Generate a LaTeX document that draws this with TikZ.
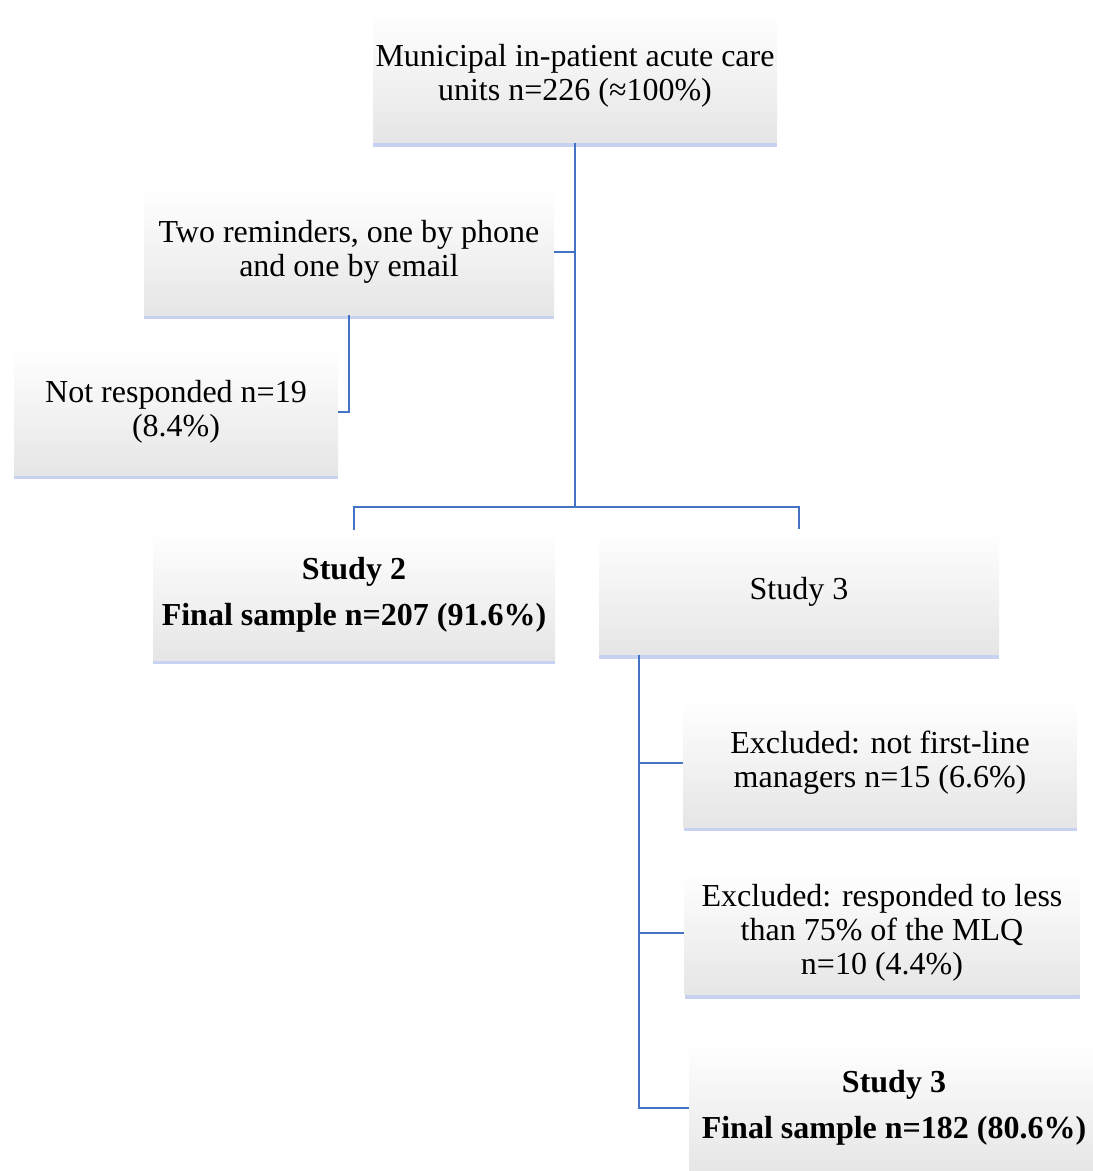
\documentclass[tikz,border=0pt]{standalone}
\usepackage{fontspec}
\setmainfont{Liberation Serif}
\usepackage{tikz}
\usetikzlibrary{positioning,shadows}

\definecolor{linkblue}{RGB}{68,114,196}
\definecolor{shadeblue}{RGB}{160,180,230}

\begin{document}
\begin{tikzpicture}[
  x=1pt, y=-1pt,
  box/.style={shading=axis, top color=white, bottom color=black!10, align=center,
    inner sep=2pt, font=\fontsize{32}{34}\selectfont,
    drop shadow={shadow xshift=0pt, shadow yshift=-4pt, fill=shadeblue, opacity=0.6}},
  link/.style={draw=linkblue, line width=2pt}
]
  \useasboundingbox (0,0) rectangle (1093,1171);
  \node[box, minimum width=404pt, minimum height=133pt] (units) at (575,76)
    {Municipal in-patient acute care\\units n=226 (≈100\%)};
  \node[box, minimum width=410pt, minimum height=126pt] (remind) at (349,252)
    {Two reminders, one by phone\\and one by email};
  \node[box, minimum width=324pt, minimum height=126pt] (noresp) at (176,412)
    {Not responded n=19\\(8.4\%)};
  \node[box, minimum width=402pt, minimum height=130pt] (studytwo) at (354,595)
    {\textbf{Study 2}\\[12pt]\textbf{Final sample n=207 (91.6\%)}};
  \node[box, minimum width=400pt, minimum height=125pt] (studythree) at (799,592)
    {Study 3};
  \node[box, minimum width=393pt, minimum height=128pt] (exclone) at (880,763)
    {Excluded: not first-line\\managers n=15 (6.6\%)};
  \node[box, minimum width=395pt, minimum height=123pt] (excltwo) at (882,933)
    {Excluded: responded to less\\than 75\% of the MLQ\\n=10 (4.4\%)};
  \node[box, minimum width=410pt, minimum height=134pt] (final) at (894,1108)
    {\textbf{Study 3}\\[12pt]\textbf{Final sample n=182 (80.6\%)}};

  % connectors
  \coordinate (split) at (units.south |- 0,507);
  \draw[link] (units.south) -- (split);
  \draw[link] (remind.east) -- (units.south |- remind.east);
  \draw[link] (studytwo.north) |- (split) -| (studythree.north);
  \draw[link] (remind.south) |- (noresp.east);
  \coordinate (trunk) at ([xshift=-160pt]studythree.south);
  \draw[link] (trunk) |- (final.west);
  \draw[link] (trunk |- exclone.west) -- (exclone.west);
  \draw[link] (trunk |- excltwo.west) -- (excltwo.west);
\end{tikzpicture}
\end{document}
